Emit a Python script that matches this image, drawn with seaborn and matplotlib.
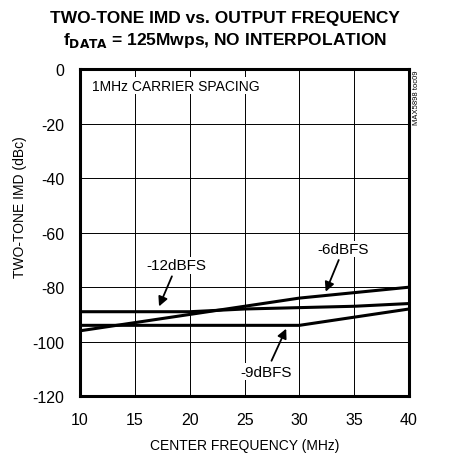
import matplotlib
matplotlib.use("Agg")
import matplotlib.pyplot as plt
import seaborn as sns
import pandas as pd

# data
freq = [10, 15, 20, 25, 30, 35, 40]
imd_6dbfs = [-96, -93, -90, -87, -84, -82, -80]
imd_9dbfs = [-94, -94, -94, -94, -94, -91, -88]
imd_12dbfs = [-89, -89, -89, -88, -87.5, -87, -86]
x_ticks = [10, 15, 20, 25, 30, 35, 40]
y_ticks = [0, -20, -40, -60, -80, -100, -120]

df = pd.DataFrame({
    'freq': freq * 3,
    'imd': imd_6dbfs + imd_9dbfs + imd_12dbfs,
    'level': ['-6dBFS'] * 7 + ['-9dBFS'] * 7 + ['-12dBFS'] * 7,
})

sns.set_style('white')
plt.rcParams['font.family'] = ['Liberation Sans', 'DejaVu Sans']
plt.rcParams['text.color'] = 'black'
plt.rcParams['axes.labelcolor'] = 'black'
plt.rcParams['xtick.color'] = 'black'
plt.rcParams['ytick.color'] = 'black'

fig = plt.figure(figsize=(4.5, 4.56), dpi=100)
ax = fig.add_axes([0.178, 0.129, 0.731, 0.717])

sns.lineplot(data=df, x='freq', y='imd', units='level', estimator=None,
             color='black', linewidth=2.2, ax=ax)

ax.set_xlim(10, 40)
ax.set_ylim(-120, 0)
ax.set_xticks(x_ticks)
ax.set_yticks(y_ticks)
ax.set_yticklabels([str(v) for v in y_ticks])
ax.grid(True, color='black', linewidth=0.7)
ax.tick_params(axis='both', length=0, labelsize=11.5, pad=11.5)
for s in ax.spines.values():
    s.set_linewidth(2.2)
    s.set_color('black')

ax.set_xlabel('CENTER FREQUENCY (MHz)', fontsize=10, labelpad=8)
ax.set_ylabel('TWO-TONE IMD (dBc)', fontsize=10)
ax.yaxis.set_label_coords(-0.16, 0.58)

fig.suptitle('TWO-TONE IMD vs. OUTPUT FREQUENCY\n'
             r'f$_{\mathbf{DATA}}$ = 125Mwps, NO INTERPOLATION',
             fontsize=12.5, fontweight='bold', y=0.975, linespacing=1.3)

box = dict(facecolor='white', edgecolor='none', pad=1)
ax.text(11.1, -6, '1MHz CARRIER SPACING', fontsize=10, va='center', ha='left', bbox=box)

arrow = dict(arrowstyle='-|>', color='black', lw=1.3, mutation_scale=14)
ax.annotate('-12dBFS', xy=(17.1, -88), xytext=(18.8, -72), fontsize=11,
            ha='center', va='center', bbox=box, arrowprops=arrow)
ax.annotate('-6dBFS', xy=(32.3, -82.6), xytext=(34, -66), fontsize=11,
            ha='center', va='center', bbox=box, arrowprops=arrow)
ax.annotate('-9dBFS', xy=(28.9, -94.3), xytext=(27, -111), fontsize=11,
            ha='center', va='center', bbox=box, arrowprops=arrow)

fig.text(0.925, 0.845, 'MAX5898 toc09', rotation=90, fontsize=5.5,
         ha='center', va='top')

fig.savefig('out.png', dpi=100)
